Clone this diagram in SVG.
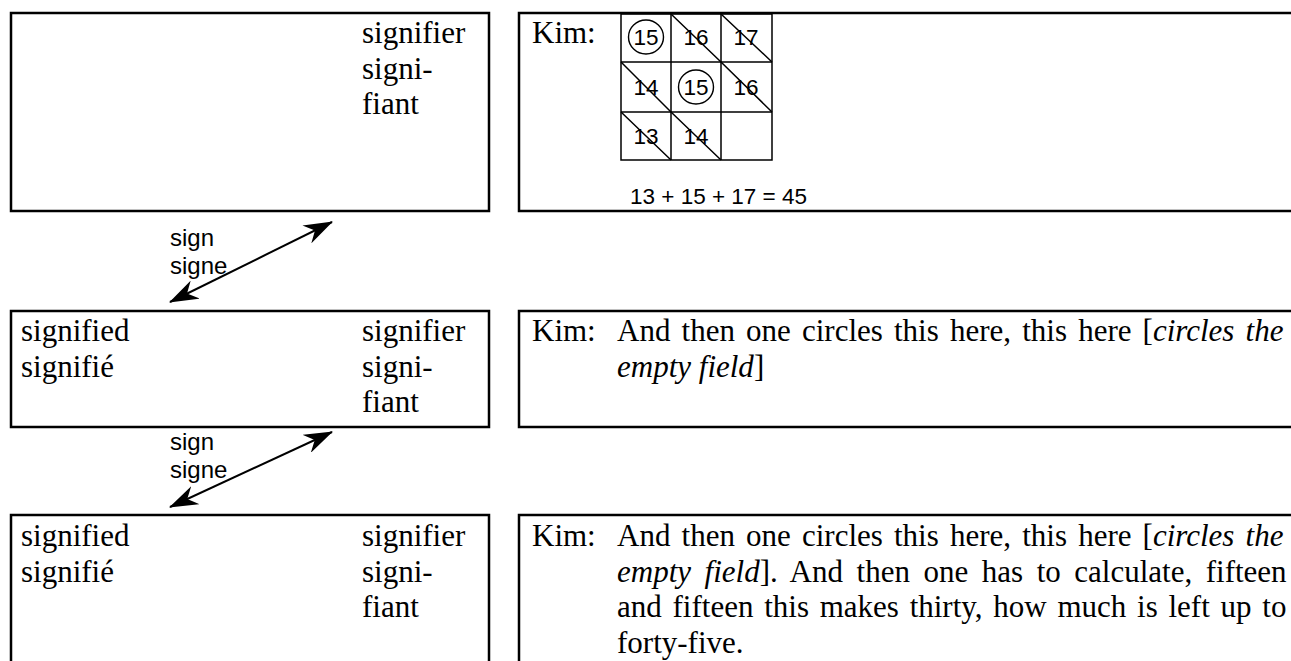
<svg xmlns="http://www.w3.org/2000/svg" width="1291" height="661" viewBox="0 0 1291 661">
  <style>
    .box { fill: #fff; stroke: #000; stroke-width: 2.5; }
    .serif { font-family: "Liberation Serif", "Times New Roman", serif; font-size: 31px; fill: #000; }
    .sans { font-family: "Liberation Sans", Arial, sans-serif; font-size: 22.5px; fill: #000; }
    .lbl { font-family: "Liberation Sans", Arial, sans-serif; font-size: 24px; fill: #000; }
    .it { font-style: italic; }
    .grid { fill: none; stroke: #000; stroke-width: 1.5; }
    .ring { fill: none; stroke: #000; stroke-width: 1.4; }
    .conn { fill: none; stroke: #000; stroke-width: 2; }
  </style>
  <defs>
    <marker id="barb" viewBox="0 0 29 20" refX="28" refY="10" markerWidth="29" markerHeight="20" markerUnits="userSpaceOnUse" orient="auto-start-reverse">
      <path d="M29,10 L0,0 L9,10 L0,20 Z" fill="#000"/>
    </marker>
  </defs>

  <rect width="1291" height="661" fill="#fff"/>

  <!-- row 1 -->
  <g id="sign1">
    <rect class="box" x="11" y="13" width="478" height="198"/>
    <text class="serif" x="362" y="43">signifier</text>
    <text class="serif" x="362" y="78.5">signi-</text>
    <text class="serif" x="362" y="114">fiant</text>
  </g>
  <g id="excerpt1">
    <rect class="box" x="519" y="13" width="800" height="198"/>
    <text class="serif" x="532" y="43">Kim:</text>
    <g id="number-square">
      <path class="grid" d="M621,14 H772 V160 H621 Z M621,62 H772 M621,112 H772 M671,14 V160 M721,14 V160"/>
      <!-- struck-out cells -->
      <path class="grid" d="M671,14 L721,62 M721,14 L772,62 M621,62 L671,112 M721,62 L772,112 M621,112 L671,160 M671,112 L721,160"/>
      <!-- circled cells -->
      <ellipse class="ring" cx="646" cy="37" rx="17.5" ry="17"/>
      <ellipse class="ring" cx="696" cy="87" rx="17.5" ry="17"/>
      <g class="sans" text-anchor="middle">
        <text x="646" y="45">15</text>
        <text x="696" y="45">16</text>
        <text x="746" y="45">17</text>
        <text x="646" y="95">14</text>
        <text x="696" y="95">15</text>
        <text x="746" y="95">16</text>
        <text x="646" y="144">13</text>
        <text x="696" y="144">14</text>
      </g>
    </g>
    <text class="sans" x="630" y="204">13 + 15 + 17 = 45</text>
  </g>

  <!-- row 2 -->
  <g id="sign2">
    <rect class="box" x="11" y="311" width="478" height="116"/>
    <text class="serif" x="21" y="341">signified</text>
    <text class="serif" x="21" y="376.5">signifié</text>
    <text class="serif" x="362" y="341">signifier</text>
    <text class="serif" x="362" y="376.5">signi-</text>
    <text class="serif" x="362" y="412">fiant</text>
  </g>
  <g id="excerpt2">
    <rect class="box" x="519" y="311" width="800" height="116"/>
    <text class="serif" x="532" y="341">Kim:</text>
    <text class="serif" x="617" y="341" word-spacing="3.4">And then one circles this here, this here [<tspan class="it">circles the</tspan></text>
    <text class="serif" x="617" y="376.5"><tspan class="it">empty field</tspan>]</text>
  </g>

  <!-- row 3 -->
  <g id="sign3">
    <rect class="box" x="11" y="515" width="478" height="200"/>
    <text class="serif" x="21" y="546">signified</text>
    <text class="serif" x="21" y="581.5">signifié</text>
    <text class="serif" x="362" y="546">signifier</text>
    <text class="serif" x="362" y="581.5">signi-</text>
    <text class="serif" x="362" y="617">fiant</text>
  </g>
  <g id="excerpt3">
    <rect class="box" x="519" y="515" width="800" height="200"/>
    <text class="serif" x="532" y="546">Kim:</text>
    <text class="serif" x="617" y="546" word-spacing="3.4">And then one circles this here, this here [<tspan class="it">circles the</tspan></text>
    <text class="serif" x="617" y="581.5" word-spacing="5.8"><tspan class="it">empty field</tspan>]. And then one has to calculate, fifteen</text>
    <text class="serif" x="617" y="617" word-spacing="3">and fifteen this makes thirty, how much is left up to</text>
    <text class="serif" x="617" y="652.5">forty-five.</text>
  </g>

  <!-- connectors between the rows -->
  <g id="connectors">
    <line class="conn" x1="170" y1="302" x2="332" y2="222" marker-start="url(#barb)" marker-end="url(#barb)"/>
    <line class="conn" x1="170" y1="507" x2="332" y2="432" marker-start="url(#barb)" marker-end="url(#barb)"/>
  </g>
  <g id="connector-labels">
    <text class="lbl" x="170" y="246">sign</text>
    <text class="lbl" x="170" y="274">signe</text>
    <text class="lbl" x="170" y="450">sign</text>
    <text class="lbl" x="170" y="478">signe</text>
  </g>
</svg>
